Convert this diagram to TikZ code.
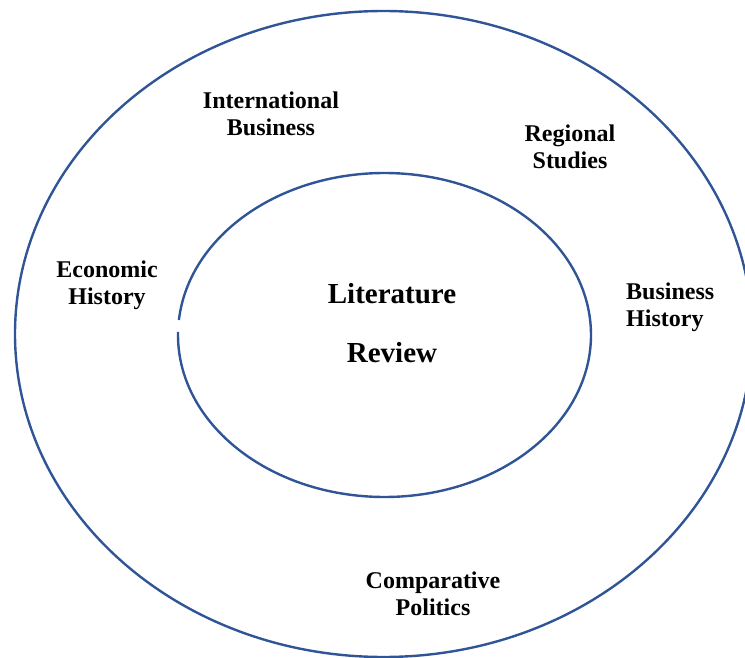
\documentclass[tikz,border=0pt]{standalone}
\usepackage{fontspec}
\setmainfont{Liberation Serif}
\begin{document}
\begin{tikzpicture}[x=1pt,y=1pt,
  ring/.style={draw=ringblue,line width=2.4pt},
  lbl/.style={anchor=base,inner sep=0pt,align=center,font=\bfseries\fontsize{24}{27.5}\selectfont},
  lblL/.style={lbl,align=left,anchor=base west},
  core/.style={anchor=base,inner sep=0pt,align=center,font=\bfseries\fontsize{29}{59.5}\selectfont}]
\definecolor{ringblue}{HTML}{2F5597}
\useasboundingbox (0,0) rectangle (745,-658);
\begin{scope}
\clip (0,0) rectangle (745,-658);
\coordinate (oc) at (383.5,-334);
\coordinate (ic) at (384.5,-335);
\draw[ring] (oc) ellipse [x radius=368.5pt, y radius=323pt];
\draw[ring] ([shift={(178.9:206.5pt and 162pt)}]ic) arc[start angle=178.9, end angle=534.7, x radius=206.5pt, y radius=162pt];
\end{scope}
\node[core] (lit) at (392,-362.8) {Literature\\Review};
\node[lbl] (ib) at (271,-135.8) {International\\Business};
\node[lbl] (rs) at (570,-168.5) {Regional\\Studies};
\node[lbl] (eh) at (107,-304.8) {Economic\\History};
\node[lblL] (bh) at (626,-326.5) {Business\\History};
\node[lbl] (cp) at (433,-615.8) {Comparative\\Politics};
\end{tikzpicture}
\end{document}
